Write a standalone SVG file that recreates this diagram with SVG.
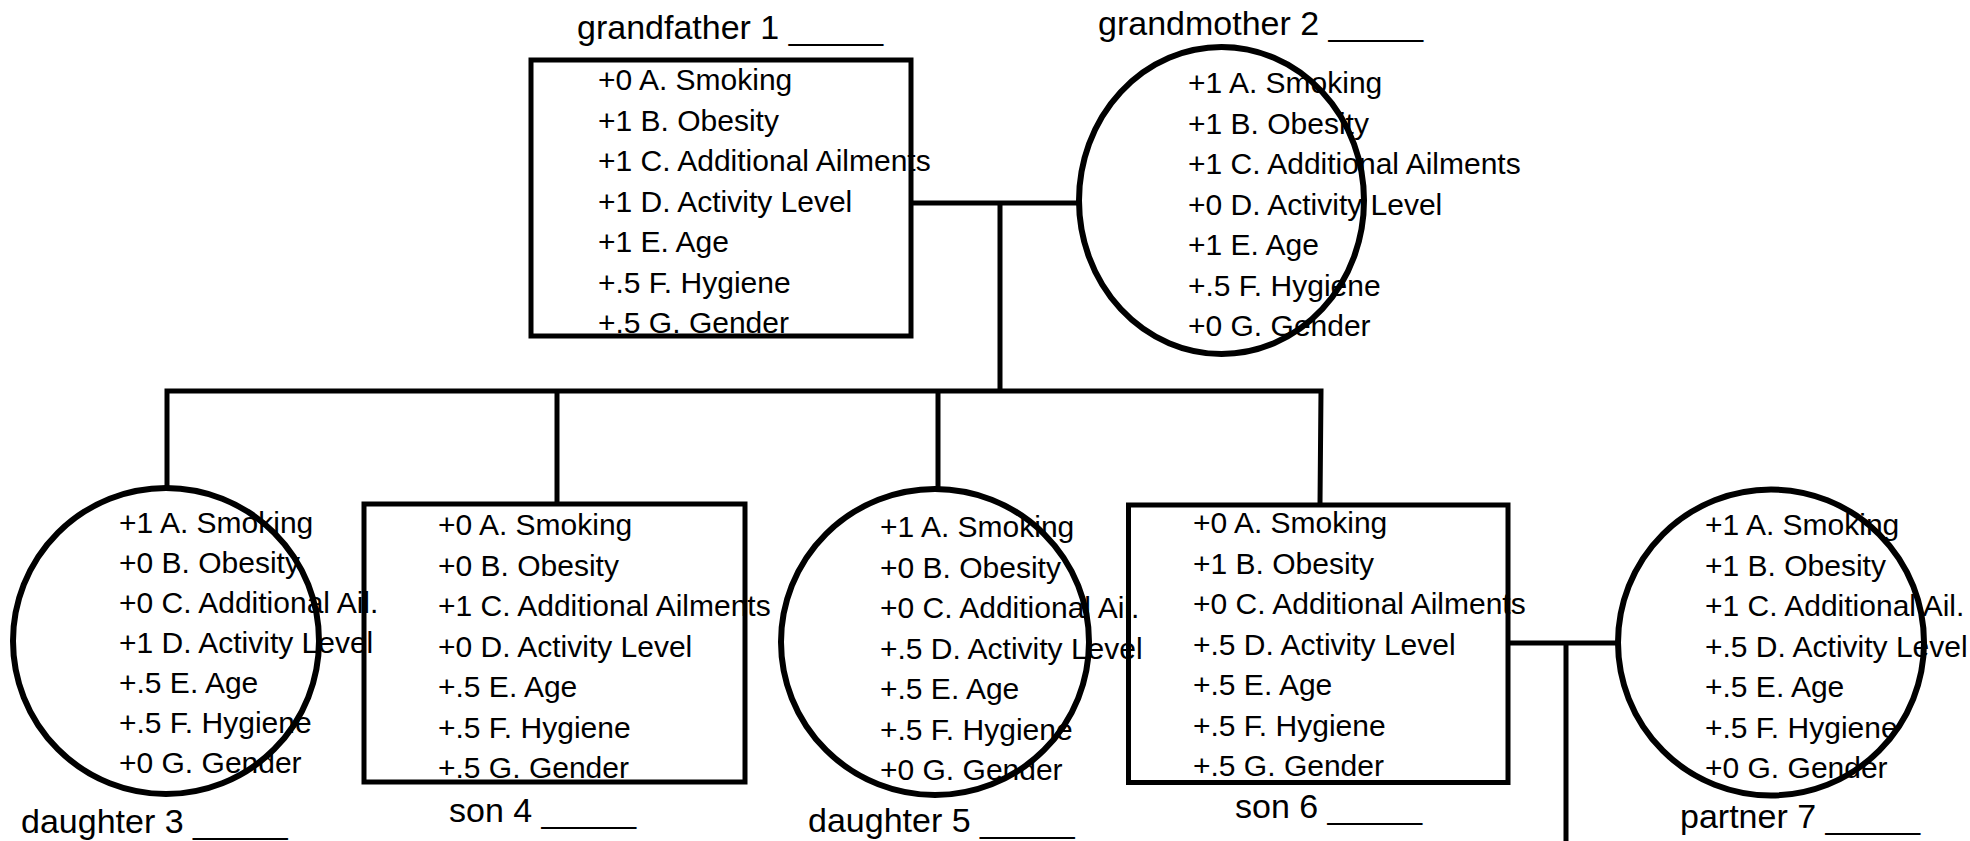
<svg xmlns="http://www.w3.org/2000/svg" width="1970" height="841" viewBox="0 0 1970 841">
<style>
.t{font-family:"Liberation Sans",Arial,sans-serif;font-size:30px;fill:#000}
.lb{font-family:"Liberation Sans",Arial,sans-serif;font-size:34px;fill:#000}
.box{fill:none;stroke:#000;stroke-width:5}
.cir{fill:none;stroke:#000;stroke-width:6}
.ln{fill:none;stroke:#000;stroke-width:5}
</style>
<rect width="1970" height="841" fill="#fff"/>
<g id="connectors">
<polyline class="ln" points="913,203 1077,203"/>
<polyline class="ln" points="1000,203 1000,391"/>
<polyline class="ln" points="167,486 167,391 1321,391 1320,504"/>
<polyline class="ln" points="557,391 557,504"/>
<polyline class="ln" points="938,391 938,488"/>
<polyline class="ln" points="1509,643 1617,643"/>
<polyline class="ln" points="1566,643 1566,841"/>
</g>
<g id="grandfather1">
<text class="lb" x="577" y="39">grandfather 1 _____</text>
<text class="t" x="598" y="90">+0 A. Smoking</text>
<text class="t" x="598" y="130.5">+1 B. Obesity</text>
<text class="t" x="598" y="171">+1 C. Additional Ailments</text>
<text class="t" x="598" y="211.5">+1 D. Activity Level</text>
<text class="t" x="598" y="252">+1 E. Age</text>
<text class="t" x="598" y="292.5">+.5 F. Hygiene</text>
<text class="t" x="598" y="333">+.5 G. Gender</text>
<rect class="box" x="531" y="60" width="380" height="276"/>
</g>
<g id="grandmother2">
<text class="lb" x="1098" y="35">grandmother 2 _____</text>
<text class="t" x="1188" y="93">+1 A. Smoking</text>
<text class="t" x="1188" y="133.5">+1 B. Obesity</text>
<text class="t" x="1188" y="174">+1 C. Additional Ailments</text>
<text class="t" x="1188" y="214.5">+0 D. Activity Level</text>
<text class="t" x="1188" y="255">+1 E. Age</text>
<text class="t" x="1188" y="295.5">+.5 F. Hygiene</text>
<text class="t" x="1188" y="336">+0 G. Gender</text>
<ellipse class="cir" cx="1221.5" cy="200.5" rx="142.5" ry="153.5"/>
</g>
<g id="daughter3">
<text class="lb" x="21" y="833">daughter 3 _____</text>
<text class="t" x="119" y="533">+1 A. Smoking</text>
<text class="t" x="119" y="573">+0 B. Obesity</text>
<text class="t" x="119" y="613">+0 C. Additional Ail.</text>
<text class="t" x="119" y="653">+1 D. Activity Level</text>
<text class="t" x="119" y="693">+.5 E. Age</text>
<text class="t" x="119" y="733">+.5 F. Hygiene</text>
<text class="t" x="119" y="773">+0 G. Gender</text>
<ellipse class="cir" cx="166" cy="641" rx="153" ry="153"/>
</g>
<g id="son4">
<text class="lb" x="449" y="822">son 4 _____</text>
<text class="t" x="438" y="535">+0 A. Smoking</text>
<text class="t" x="438" y="575.5">+0 B. Obesity</text>
<text class="t" x="438" y="616">+1 C. Additional Ailments</text>
<text class="t" x="438" y="656.5">+0 D. Activity Level</text>
<text class="t" x="438" y="697">+.5 E. Age</text>
<text class="t" x="438" y="737.5">+.5 F. Hygiene</text>
<text class="t" x="438" y="778">+.5 G. Gender</text>
<rect class="box" x="364" y="504" width="381" height="278"/>
</g>
<g id="daughter5">
<text class="lb" x="808" y="832">daughter 5 _____</text>
<text class="t" x="880" y="537">+1 A. Smoking</text>
<text class="t" x="880" y="577.5">+0 B. Obesity</text>
<text class="t" x="880" y="618">+0 C. Additional Ail.</text>
<text class="t" x="880" y="658.5">+.5 D. Activity Level</text>
<text class="t" x="880" y="699">+.5 E. Age</text>
<text class="t" x="880" y="739.5">+.5 F. Hygiene</text>
<text class="t" x="880" y="780">+0 G. Gender</text>
<ellipse class="cir" cx="935" cy="642" rx="154" ry="153"/>
</g>
<g id="son6">
<text class="lb" x="1235" y="818">son 6 _____</text>
<text class="t" x="1193" y="533">+0 A. Smoking</text>
<text class="t" x="1193" y="573.5">+1 B. Obesity</text>
<text class="t" x="1193" y="614">+0 C. Additional Ailments</text>
<text class="t" x="1193" y="654.5">+.5 D. Activity Level</text>
<text class="t" x="1193" y="695">+.5 E. Age</text>
<text class="t" x="1193" y="735.5">+.5 F. Hygiene</text>
<text class="t" x="1193" y="776">+.5 G. Gender</text>
<rect class="box" x="1128.5" y="505" width="379.5" height="277.5"/>
</g>
<g id="partner7">
<text class="lb" x="1680" y="828">partner 7 _____</text>
<text class="t" x="1705" y="535">+1 A. Smoking</text>
<text class="t" x="1705" y="575.5">+1 B. Obesity</text>
<text class="t" x="1705" y="616">+1 C. Additional Ail.</text>
<text class="t" x="1705" y="656.5">+.5 D. Activity Level</text>
<text class="t" x="1705" y="697">+.5 E. Age</text>
<text class="t" x="1705" y="737.5">+.5 F. Hygiene</text>
<text class="t" x="1705" y="778">+0 G. Gender</text>
<ellipse class="cir" cx="1771" cy="642.5" rx="153" ry="153"/>
</g>
</svg>
